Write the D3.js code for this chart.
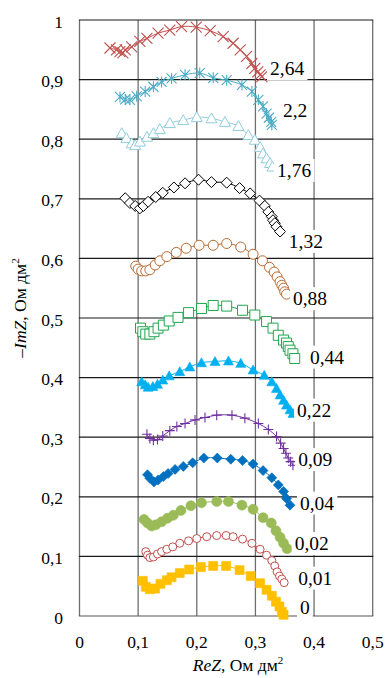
<!DOCTYPE html>
<html>
<head>
<meta charset="utf-8">
<script src="https://cdn.jsdelivr.net/npm/d3@7"></script>
<style>
  html, body { margin: 0; padding: 0; background: #fff; }
  svg { display: block; }
  text { font-family: "Liberation Serif", "Times New Roman", serif; fill: #000; }
</style>
</head>
<body>
<svg id="chart" width="387" height="678"></svg>
<script>
// Nyquist spectra: one curve per concentration label
const seriesNames = ["2,64", "2,2", "1,76", "1,32", "0,88", "0,44", "0,22", "0,09", "0,04", "0,02", "0,01", "0"];

const reZ_264 = [0.052,0.063,0.069,0.074,0.078,0.089,0.103,0.115,0.134,0.154,0.174,0.199,0.223,0.245,0.262,0.274,0.285,0.294,0.299,0.304,0.308,0.311];
const imZ_264 = [0.953,0.950,0.947,0.945,0.950,0.955,0.964,0.969,0.978,0.983,0.989,0.988,0.982,0.972,0.961,0.950,0.939,0.927,0.919,0.913,0.908,0.905];

const reZ_22 = [0.069,0.078,0.086,0.0975,0.112,0.126,0.140,0.157,0.180,0.205,0.228,0.251,0.277,0.294,0.305,0.313,0.319,0.323,0.327,0.328];
const imZ_22 = [0.871,0.867,0.866,0.872,0.880,0.888,0.896,0.902,0.908,0.911,0.903,0.899,0.891,0.880,0.866,0.855,0.843,0.836,0.829,0.824];

const reZ_176 = [0.072,0.080,0.089,0.095,0.103,0.115,0.126,0.137,0.154,0.177,0.200,0.225,0.248,0.271,0.288,0.299,0.308,0.313,0.319,0.325,0.329];
const imZ_176 = [0.810,0.802,0.793,0.790,0.796,0.804,0.810,0.817,0.827,0.832,0.837,0.835,0.829,0.822,0.807,0.799,0.787,0.776,0.768,0.760,0.754];

const reZ_132 = [0.078,0.086,0.095,0.103,0.109,0.117,0.130,0.142,0.161,0.180,0.203,0.225,0.251,0.273,0.291,0.307,0.316,0.322,0.328,0.330,0.333,0.336,0.342];
const imZ_132 = [0.701,0.693,0.688,0.684,0.688,0.695,0.703,0.710,0.719,0.726,0.732,0.728,0.727,0.718,0.709,0.697,0.688,0.678,0.670,0.664,0.659,0.653,0.645];

const reZ_088 = [0.096,0.100,0.106,0.113,0.120,0.129,0.137,0.149,0.165,0.182,0.204,0.228,0.251,0.275,0.296,0.312,0.324,0.332,0.337,0.342,0.345,0.348,0.350,0.353];
const imZ_088 = [0.587,0.582,0.579,0.579,0.581,0.589,0.596,0.603,0.610,0.617,0.622,0.622,0.625,0.619,0.607,0.596,0.585,0.577,0.569,0.561,0.555,0.550,0.544,0.540];

const reZ_044 = [0.104,0.108,0.113,0.120,0.127,0.134,0.143,0.153,0.168,0.186,0.208,0.228,0.251,0.278,0.299,0.319,0.330,0.339,0.348,0.353,0.356,0.359,0.364,0.367];
const imZ_044 = [0.483,0.477,0.473,0.473,0.477,0.483,0.488,0.495,0.501,0.509,0.516,0.521,0.520,0.513,0.505,0.494,0.483,0.471,0.463,0.458,0.452,0.446,0.440,0.432];

const reZ_022 = [0.106,0.112,0.117,0.125,0.133,0.142,0.153,0.171,0.188,0.208,0.231,0.254,0.275,0.296,0.315,0.328,0.336,0.342,0.348,0.353,0.359,0.364];
const imZ_022 = [0.393,0.388,0.384,0.385,0.389,0.396,0.403,0.410,0.418,0.425,0.427,0.428,0.424,0.413,0.404,0.393,0.382,0.371,0.362,0.354,0.346,0.340];

const reZ_009 = [0.115,0.120,0.126,0.133,0.142,0.154,0.166,0.180,0.197,0.214,0.234,0.260,0.282,0.305,0.322,0.336,0.343,0.348,0.352,0.356,0.360,0.364];
const imZ_009 = [0.305,0.298,0.295,0.296,0.302,0.311,0.318,0.323,0.329,0.333,0.337,0.337,0.332,0.323,0.313,0.301,0.290,0.281,0.273,0.265,0.259,0.253];

const reZ_004 = [0.116,0.120,0.127,0.134,0.143,0.151,0.163,0.177,0.193,0.212,0.235,0.258,0.278,0.296,0.313,0.328,0.339,0.348,0.353,0.359];
const imZ_004 = [0.237,0.231,0.225,0.228,0.234,0.239,0.246,0.251,0.257,0.265,0.265,0.263,0.261,0.255,0.244,0.232,0.220,0.209,0.197,0.186];

const reZ_002 = [0.110,0.116,0.123,0.130,0.140,0.150,0.160,0.173,0.190,0.208,0.234,0.254,0.277,0.296,0.313,0.327,0.335,0.342,0.348,0.354];
const imZ_002 = [0.162,0.156,0.151,0.153,0.158,0.164,0.169,0.177,0.185,0.190,0.192,0.192,0.186,0.179,0.165,0.156,0.143,0.132,0.122,0.113];

const reZ_001 = [0.113,0.116,0.120,0.126,0.133,0.140,0.149,0.159,0.171,0.186,0.200,0.217,0.234,0.250,0.262,0.278,0.294,0.308,0.319,0.328,0.333,0.337,0.341,0.345,0.349];
const imZ_001 = [0.108,0.102,0.098,0.099,0.104,0.108,0.112,0.116,0.122,0.126,0.130,0.133,0.135,0.135,0.133,0.129,0.122,0.112,0.102,0.093,0.084,0.074,0.067,0.062,0.056];

const reZ_0 = [0.108,0.113,0.120,0.129,0.138,0.149,0.157,0.171,0.187,0.207,0.228,0.250,0.273,0.292,0.308,0.319,0.328,0.335,0.341,0.345,0.348];
const imZ_0 = [0.059,0.049,0.045,0.046,0.054,0.060,0.065,0.072,0.078,0.082,0.084,0.084,0.077,0.067,0.055,0.044,0.034,0.024,0.016,0.007,0.002];

const xTicks = [0, 0.1, 0.2, 0.3, 0.4, 0.5];
const yTicks = [0, 0.1, 0.2, 0.3, 0.4, 0.5, 0.6, 0.7, 0.8, 0.9, 1];
const xTickLabels = ["0", "0,1", "0,2", "0,3", "0,4", "0,5"];
const yTickLabels = ["0", "0,1", "0,2", "0,3", "0,4", "0,5", "0,6", "0,7", "0,8", "0,9", "1"];

// ---- styling per series ----
const styles = [
  { color: "#c0504d", shape: "times",    fill: false, size: 11 },
  { color: "#4bacc6", shape: "asterisk", fill: false, size: 10 },
  { color: "#93cddd", shape: "triangle", fill: false, size: 11 },
  { color: "#000000", shape: "diamond",  fill: false, size: 11 },
  { color: "#b86a30", shape: "circle",   fill: false, size: 10 },
  { color: "#1fa84e", shape: "square",   fill: false, size: 10 },
  { color: "#00b0f0", shape: "triangle", fill: true,  size: 10 },
  { color: "#7030a0", shape: "plus",     fill: false, size: 10 },
  { color: "#0070c0", shape: "diamond",  fill: true,  size: 10 },
  { color: "#9bbb59", shape: "circle",   fill: true,  size: 10 },
  { color: "#c0504d", shape: "circle",   fill: false, size: 8 },
  { color: "#ffc000", shape: "square",   fill: true,  size: 9 }
];
// label anchor (left edge, vertical middle) in data units
const labelAnchor = [
  [0.325, 0.919], [0.347, 0.849], [0.337, 0.748], [0.357, 0.629],
  [0.364, 0.533], [0.393, 0.435], [0.371, 0.346], [0.373, 0.263],
  [0.376, 0.190], [0.367, 0.122], [0.373, 0.064], [0.376, 0.015]
];

const reList = [reZ_264, reZ_22, reZ_176, reZ_132, reZ_088, reZ_044, reZ_022, reZ_009, reZ_004, reZ_002, reZ_001, reZ_0];
const imList = [imZ_264, imZ_22, imZ_176, imZ_132, imZ_088, imZ_044, imZ_022, imZ_009, imZ_004, imZ_002, imZ_001, imZ_0];
const series = seriesNames.map((name, i) => ({
  name, style: styles[i], anchor: labelAnchor[i],
  points: reList[i].map((re, j) => ({ re, im: imList[i][j] }))
}));

const svg = d3.select("#chart");
const x = d3.scaleLinear().domain([0, 0.5]).range([79.5, 372.7]);
const y = d3.scaleLinear().domain([0, 1]).range([616, 20]);

// grid
const grid = svg.append("g");
grid.selectAll("line.v").data(xTicks).join("line")
  .attr("x1", d => x(d)).attr("x2", d => x(d))
  .attr("y1", y(0)).attr("y2", y(1))
  .attr("stroke", "#6f6f6f").attr("stroke-width", 1.3);
grid.selectAll("line.h").data(yTicks).join("line")
  .attr("x1", x(0) - 0.6).attr("x2", x(0.5) + 0.6)
  .attr("y1", d => y(d)).attr("y2", d => y(d))
  .attr("stroke", d => d === 0 ? "#555" : "#1a1a1a").attr("stroke-width", 1.2);

// tick labels
svg.append("g").selectAll("text").data(xTicks).join("text")
  .attr("x", d => x(d)).attr("y", 648)
  .attr("text-anchor", "middle").attr("font-size", 17.5)
  .text((d, i) => xTickLabels[i]);
svg.append("g").selectAll("text").data(yTicks).join("text")
  .attr("x", 63).attr("y", d => y(d) + 7.5)
  .attr("text-anchor", "end").attr("font-size", 17.5)
  .text((d, i) => yTickLabels[i]);

// axis titles
const xt = svg.append("text").attr("x", 238).attr("y", 671)
  .attr("text-anchor", "middle").attr("font-size", 17.5);
xt.append("tspan").attr("font-style", "italic").text("ReZ");
xt.append("tspan").text(", Ом дм");
xt.append("tspan").attr("font-size", 11).attr("dy", -7).text("2");

const yt = svg.append("text")
  .attr("transform", "translate(26,308) rotate(-90)")
  .attr("text-anchor", "middle").attr("font-size", 17.5);
yt.append("tspan").text("–");
yt.append("tspan").attr("font-style", "italic").text("ImZ");
yt.append("tspan").text(", Ом дм");
yt.append("tspan").attr("font-size", 11).attr("dy", -7).text("2");

// marker shapes
function markerPath(shape, s) {
  const r = s / 2;
  switch (shape) {
    case "times":
      return `M${-r},${-r}L${r},${r}M${-r},${r}L${r},${-r}`;
    case "plus":
      return `M${-r},0L${r},0M0,${-r}L0,${r}`;
    case "asterisk":
      return `M${-r},${-r}L${r},${r}M${-r},${r}L${r},${-r}M0,${-r * 1.1}L0,${r * 1.1}`;
    case "triangle": {
      const h = s * 0.9;
      return `M0,${-h * 0.55}L${r},${h * 0.45}L${-r},${h * 0.45}Z`;
    }
    case "diamond":
      return `M0,${-r}L${r},0L0,${r}L${-r},0Z`;
    case "square":
      return `M${-r},${-r}H${r}V${r}H${-r}Z`;
    case "circle":
      return `M${r},0A${r},${r} 0 1,1 ${-r},0A${r},${r} 0 1,1 ${r},0Z`;
  }
}

const line = d3.line().x(d => x(d.re)).y(d => y(d.im)).curve(d3.curveCatmullRom.alpha(0.5));

series.forEach(s => {
  const g = svg.append("g");
  const st = s.style;
  g.append("path").datum(s.points)
    .attr("d", line).attr("fill", "none")
    .attr("stroke", st.color).attr("stroke-width", 1);
  const stroked = ["times", "plus", "asterisk"].includes(st.shape);
  g.selectAll("path.m").data(s.points).join("path")
    .attr("transform", d => `translate(${x(d.re)},${y(d.im)})`)
    .attr("d", markerPath(st.shape, st.size))
    .attr("fill", stroked ? "none" : (st.fill ? st.color : "#fff"))
    .attr("stroke", st.color)
    .attr("stroke-width", stroked ? 1.1 : (st.fill ? 0.6 : 1));
});

// series labels on white boxes
series.forEach(s => {
  const g = svg.append("g");
  const t = g.append("text")
    .attr("x", x(s.anchor[0])).attr("y", y(s.anchor[1]))
    .attr("dy", "0.35em").attr("font-size", 19.5).text(s.name);
  const b = t.node().getBBox();
  g.insert("rect", "text")
    .attr("x", b.x - 3).attr("y", b.y - 1)
    .attr("width", b.width + 6).attr("height", b.height + 2)
    .attr("fill", "#fff");
});
</script>
</body>
</html>
